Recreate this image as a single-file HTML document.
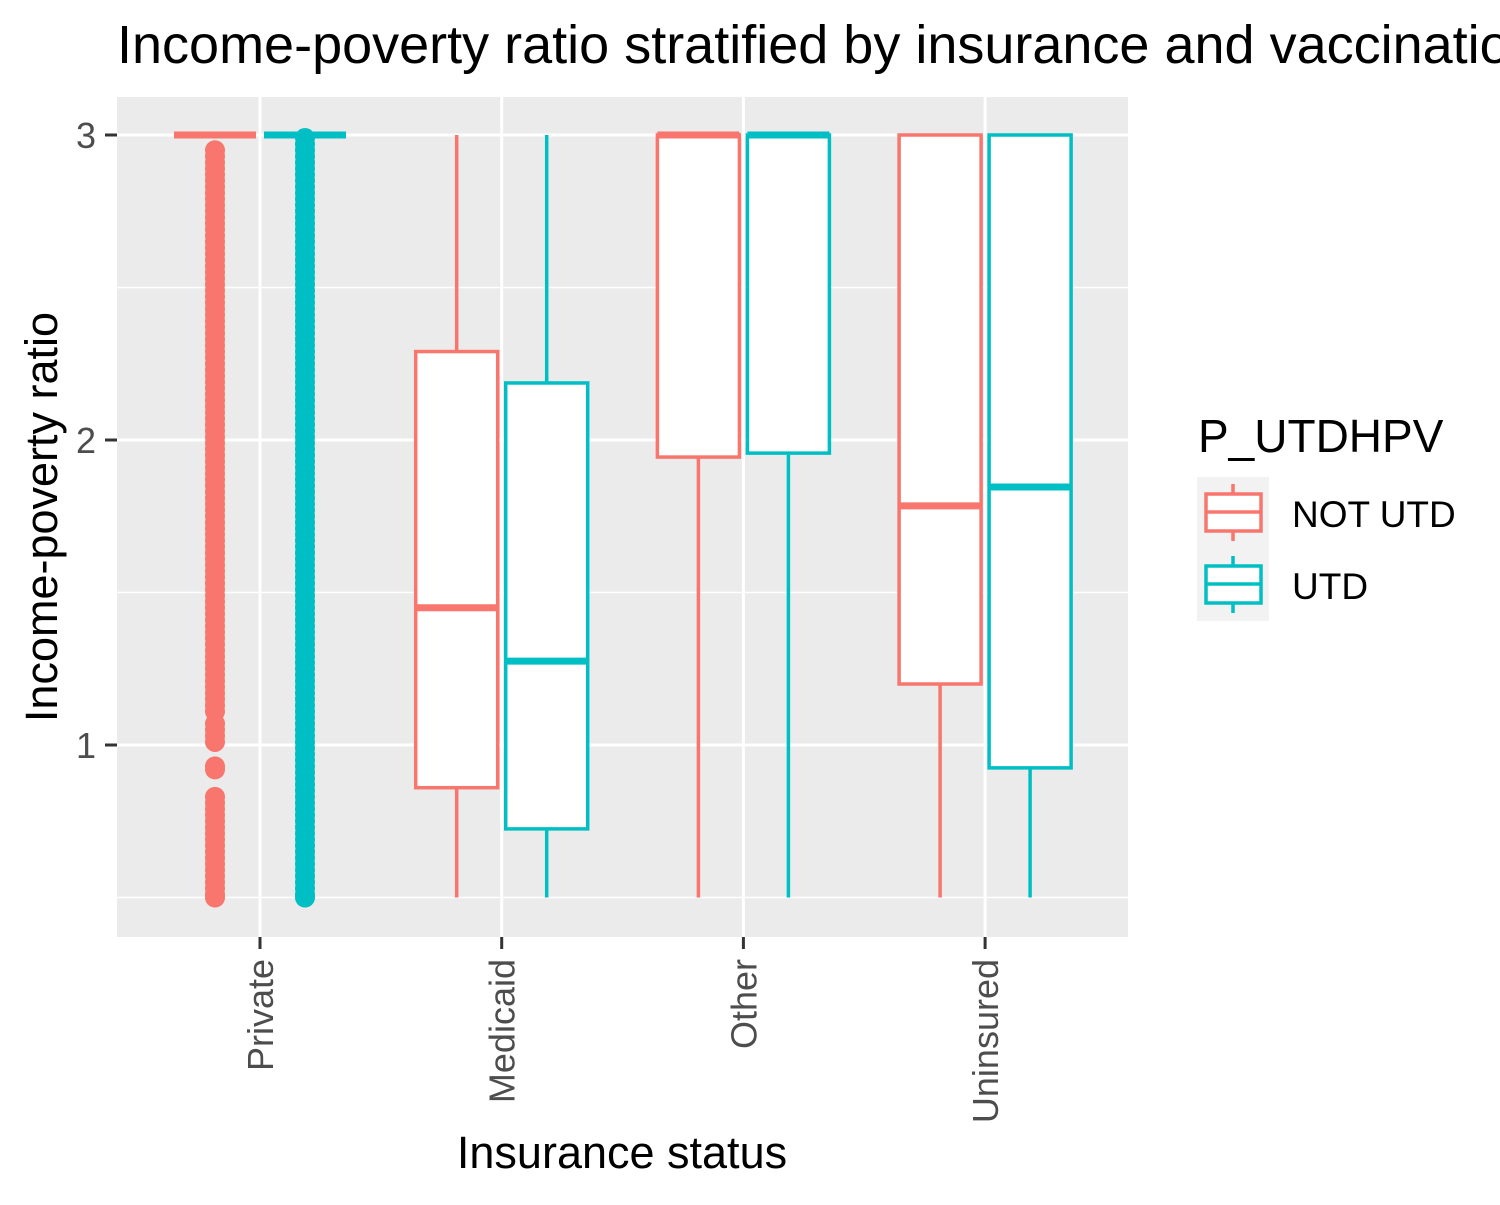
<!DOCTYPE html>
<html><head><meta charset="utf-8"><style>
body{margin:0;background:#fff}
svg text{font-family:"Liberation Sans",Arial,sans-serif}
</style></head><body>
<svg id="chart" width="1500" height="1200" xmlns="http://www.w3.org/2000/svg">
<rect width="1500" height="1200" fill="#fff"/>
<text x="117" y="63" font-size="54" fill="#000">Income-poverty ratio stratified by insurance and vaccination status</text>
<rect x="117" y="97" width="1011" height="840" fill="#EBEBEB"/>
<g id="grid"></g>
<g id="marks"></g>
<g id="axes"></g>
<text transform="translate(57,517) rotate(-90)" text-anchor="middle" font-size="45" fill="#000">Income-poverty ratio</text>
<text x="622" y="1168" text-anchor="middle" font-size="45" fill="#000">Insurance status</text>
<g>
<text x="1198" y="452" font-size="46" fill="#000">P_UTDHPV</text>
<rect x="1197" y="477" width="72" height="72" fill="#F2F2F2"/>
<rect x="1197" y="549" width="72" height="72" fill="#F2F2F2"/>
<g>
<line x1="1233" x2="1233" y1="484" y2="541" stroke="#F8766D" stroke-width="3.5"/>
<rect x="1206" y="494" width="55" height="37" fill="#fff" stroke="#F8766D" stroke-width="3.5"/>
<line x1="1206" x2="1261" y1="512" y2="512" stroke="#F8766D" stroke-width="3.5"/>
<text x="1292" y="527" font-size="37" fill="#000">NOT UTD</text>
</g>
<g>
<line x1="1233" x2="1233" y1="556" y2="613" stroke="#00BFC4" stroke-width="3.5"/>
<rect x="1206" y="566" width="55" height="37" fill="#fff" stroke="#00BFC4" stroke-width="3.5"/>
<line x1="1206" x2="1261" y1="584" y2="584" stroke="#00BFC4" stroke-width="3.5"/>
<text x="1292" y="599" font-size="37" fill="#000">UTD</text>
</g>
</g>
</svg>
<script>
const categories=["Private","Medicaid","Other","Uninsured"];
const groups=["NOT UTD","UTD"];
const colors=["#F8766D","#00BFC4"];
const yTicks=[1,2,3];
const yMinor=[0.5,1.5,2.5];
// [lower, q1, median, q3, upper] per category per group
const notUtdStats=[[3,3,3,3,3],[0.5,0.86,1.45,2.29,3],[0.5,1.944,3,3,3],[0.5,1.2,1.784,3,3]];
const utdStats=[[3,3,3,3,3],[0.5,0.725,1.275,2.187,3],[0.5,1.957,3,3,3],[0.5,0.925,1.846,3,3]];
const privateNotUtdOutliers=[2.95,2.93,2.91,2.89,2.87,2.85,2.83,2.81,2.79,2.77,2.75,2.73,2.71,2.69,2.67,2.65,2.63,2.61,2.59,2.57,2.55,2.53,2.51,2.49,2.47,2.45,2.43,2.41,2.39,2.37,2.35,2.33,2.31,2.29,2.27,2.25,2.23,2.21,2.19,2.17,2.15,2.13,2.11,2.09,2.07,2.05,2.03,2.01,1.99,1.97,1.95,1.93,1.91,1.89,1.87,1.85,1.83,1.81,1.79,1.77,1.75,1.73,1.71,1.69,1.67,1.65,1.63,1.61,1.59,1.57,1.55,1.53,1.51,1.49,1.47,1.45,1.43,1.41,1.39,1.37,1.35,1.33,1.31,1.29,1.27,1.25,1.23,1.21,1.19,1.17,1.15,1.13,1.11,1.07,1.05,1.03,1.01,0.93,0.92,0.83,0.81,0.79,0.77,0.75,0.73,0.71,0.69,0.67,0.65,0.63,0.61,0.59,0.57,0.55,0.53,0.51,0.5];
const privateUtdOutliers=[2.99,2.97,2.95,2.93,2.91,2.89,2.87,2.85,2.83,2.81,2.79,2.77,2.75,2.73,2.71,2.69,2.67,2.65,2.63,2.61,2.59,2.57,2.55,2.53,2.51,2.49,2.47,2.45,2.43,2.41,2.39,2.37,2.35,2.33,2.31,2.29,2.27,2.25,2.23,2.21,2.19,2.17,2.15,2.13,2.11,2.09,2.07,2.05,2.03,2.01,1.99,1.97,1.95,1.93,1.91,1.89,1.87,1.85,1.83,1.81,1.79,1.77,1.75,1.73,1.71,1.69,1.67,1.65,1.63,1.61,1.59,1.57,1.55,1.53,1.51,1.49,1.47,1.45,1.43,1.41,1.39,1.37,1.35,1.33,1.31,1.29,1.27,1.25,1.23,1.21,1.19,1.17,1.15,1.13,1.11,1.09,1.07,1.05,1.03,1.01,0.99,0.97,0.95,0.93,0.91,0.89,0.87,0.85,0.83,0.81,0.79,0.77,0.75,0.73,0.71,0.69,0.67,0.65,0.63,0.61,0.59,0.57,0.55,0.53,0.51,0.5];

const NS="http://www.w3.org/2000/svg";
const y=v=>745-(v-1)*305;
const x=i=>260+i*241.7;
const dodge=45, halfW=41;
function mk(tag,attrs,parent){const e=document.createElementNS(NS,tag);for(const k in attrs)e.setAttribute(k,attrs[k]);parent.appendChild(e);return e;}
const grid=document.getElementById('grid'),marks=document.getElementById('marks'),axes=document.getElementById('axes');
yMinor.forEach(v=>{const l=mk('line',{x1:117,x2:1128,y1:y(v),y2:y(v),stroke:'#fff','stroke-width':1.5},grid);

});
yTicks.forEach(v=>{const l=mk('line',{x1:117,x2:1128,y1:y(v),y2:y(v),stroke:'#fff','stroke-width':3},grid);


const t=mk('line',{x1:105,x2:117,y1:y(v),y2:y(v),stroke:'#333','stroke-width':3},axes);


const tx=mk('text',{x:96,y:y(v)+13,'text-anchor':'end','font-size':36,fill:'#4D4D4D'},axes);tx.textContent=v;

});
categories.forEach((c,i)=>{const l=mk('line',{x1:x(i),x2:x(i),y1:97,y2:937,stroke:'#fff','stroke-width':3},grid);


const t=mk('line',{x1:x(i),x2:x(i),y1:937,y2:949,stroke:'#333','stroke-width':3},axes);


const tx=mk('text',{transform:`translate(${x(i)+13},959) rotate(-90)`,'text-anchor':'end','font-size':36,fill:'#4D4D4D'},axes);tx.textContent=c;

});
[notUtdStats,utdStats].forEach((stats,g)=>{
 stats.forEach((s,i)=>{
  const cx=x(i)+(g===0?-dodge:dodge),col=colors[g];
  const grp=mk('g',{},marks);
  
  
  mk('line',{x1:cx,x2:cx,y1:y(s[0]),y2:y(s[1]),stroke:col,'stroke-width':3.5},grp);
  mk('line',{x1:cx,x2:cx,y1:y(s[3]),y2:y(s[4]),stroke:col,'stroke-width':3.5},grp);
  mk('rect',{x:cx-halfW,y:y(s[3]),width:2*halfW,height:Math.max(0,y(s[1])-y(s[3])),fill:'#fff',stroke:col,'stroke-width':3.5},grp);
  mk('line',{x1:cx-halfW,x2:cx+halfW,y1:y(s[2]),y2:y(s[2]),stroke:col,'stroke-width':7},grp);
 });
});
[privateNotUtdOutliers,privateUtdOutliers].forEach((arr,g)=>{
 const cx=x(0)+(g===0?-dodge:dodge);
 arr.forEach(v=>{const c=mk('circle',{cx:cx,cy:y(v),r:10,fill:colors[g]},marks);
 
 });
});
</script>
</body></html>
